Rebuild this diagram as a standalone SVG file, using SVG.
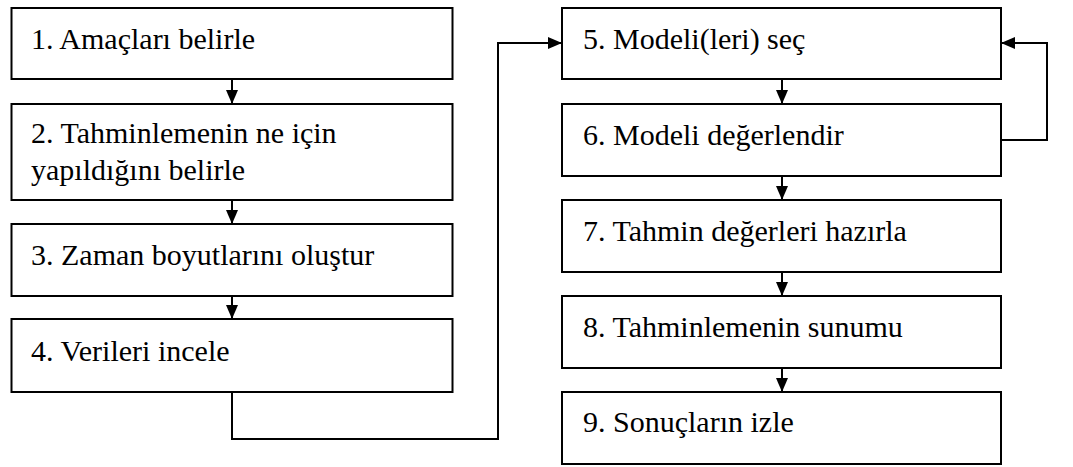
<svg xmlns="http://www.w3.org/2000/svg" width="1073" height="467" viewBox="0 0 1073 467">
  <style>
    .box { fill: #ffffff; stroke: #000000; stroke-width: 2; }
    .lbl { font-family: 'Liberation Serif', 'Times New Roman', 'DejaVu Serif', serif; font-size: 30px; fill: #000000; }
    .wire { fill: none; stroke: #000000; stroke-width: 2; }
  </style>
  <defs>
    <marker id="arrow" markerUnits="userSpaceOnUse" markerWidth="14" markerHeight="12" refX="14" refY="6" orient="auto">
      <polygon points="0,0 14,6 0,12" fill="#000000"/>
    </marker>
  </defs>
  <rect width="1073" height="467" fill="#ffffff"/>

  <!-- left column -->
  <g id="step1">
    <rect class="box" x="11.5" y="8" width="441" height="71"/>
    <text class="lbl" font-family="Liberation Serif, serif" x="31" y="49">1. Amaçları belirle</text>
  </g>
  <g id="step2">
    <rect class="box" x="11.5" y="104" width="441" height="96"/>
    <text class="lbl" font-family="Liberation Serif, serif" x="31" y="143">2. Tahminlemenin ne için</text>
    <text class="lbl" font-family="Liberation Serif, serif" x="31" y="180">yapıldığını belirle</text>
  </g>
  <g id="step3">
    <rect class="box" x="11.5" y="224" width="441" height="72"/>
    <text class="lbl" font-family="Liberation Serif, serif" x="31" y="265">3. Zaman boyutlarını oluştur</text>
  </g>
  <g id="step4">
    <rect class="box" x="11.5" y="319" width="441" height="73"/>
    <text class="lbl" font-family="Liberation Serif, serif" x="31" y="361">4. Verileri incele</text>
  </g>

  <!-- right column -->
  <g id="step5">
    <rect class="box" x="562" y="8" width="439" height="71"/>
    <text class="lbl" font-family="Liberation Serif, serif" x="583" y="49">5. Modeli(leri) seç</text>
  </g>
  <g id="step6">
    <rect class="box" x="562" y="104" width="439" height="72"/>
    <text class="lbl" font-family="Liberation Serif, serif" x="583" y="145">6. Modeli değerlendir</text>
  </g>
  <g id="step7">
    <rect class="box" x="562" y="200" width="439" height="72"/>
    <text class="lbl" font-family="Liberation Serif, serif" x="583" y="241">7. Tahmin değerleri hazırla</text>
  </g>
  <g id="step8">
    <rect class="box" x="562" y="296" width="439" height="72"/>
    <text class="lbl" font-family="Liberation Serif, serif" x="583" y="337">8. Tahminlemenin sunumu</text>
  </g>
  <g id="step9">
    <rect class="box" x="562" y="392" width="439" height="72"/>
    <text class="lbl" font-family="Liberation Serif, serif" x="583" y="432">9. Sonuçların izle</text>
  </g>

  <!-- connectors -->
  <g id="connectors">
    <line class="wire" x1="232" y1="79" x2="232" y2="104" marker-end="url(#arrow)"/>
    <line class="wire" x1="232" y1="200" x2="232" y2="224" marker-end="url(#arrow)"/>
    <line class="wire" x1="232" y1="296" x2="232" y2="319" marker-end="url(#arrow)"/>
    <path class="wire" d="M232,392 V439 H498 V43 H562" marker-end="url(#arrow)"/>
    <line class="wire" x1="782" y1="79" x2="782" y2="104" marker-end="url(#arrow)"/>
    <line class="wire" x1="782" y1="176" x2="782" y2="200" marker-end="url(#arrow)"/>
    <line class="wire" x1="782" y1="272" x2="782" y2="296" marker-end="url(#arrow)"/>
    <line class="wire" x1="782" y1="368" x2="782" y2="392" marker-end="url(#arrow)"/>
    <path class="wire" d="M1001,140 H1047 V43 H1001" marker-end="url(#arrow)"/>
  </g>
</svg>
